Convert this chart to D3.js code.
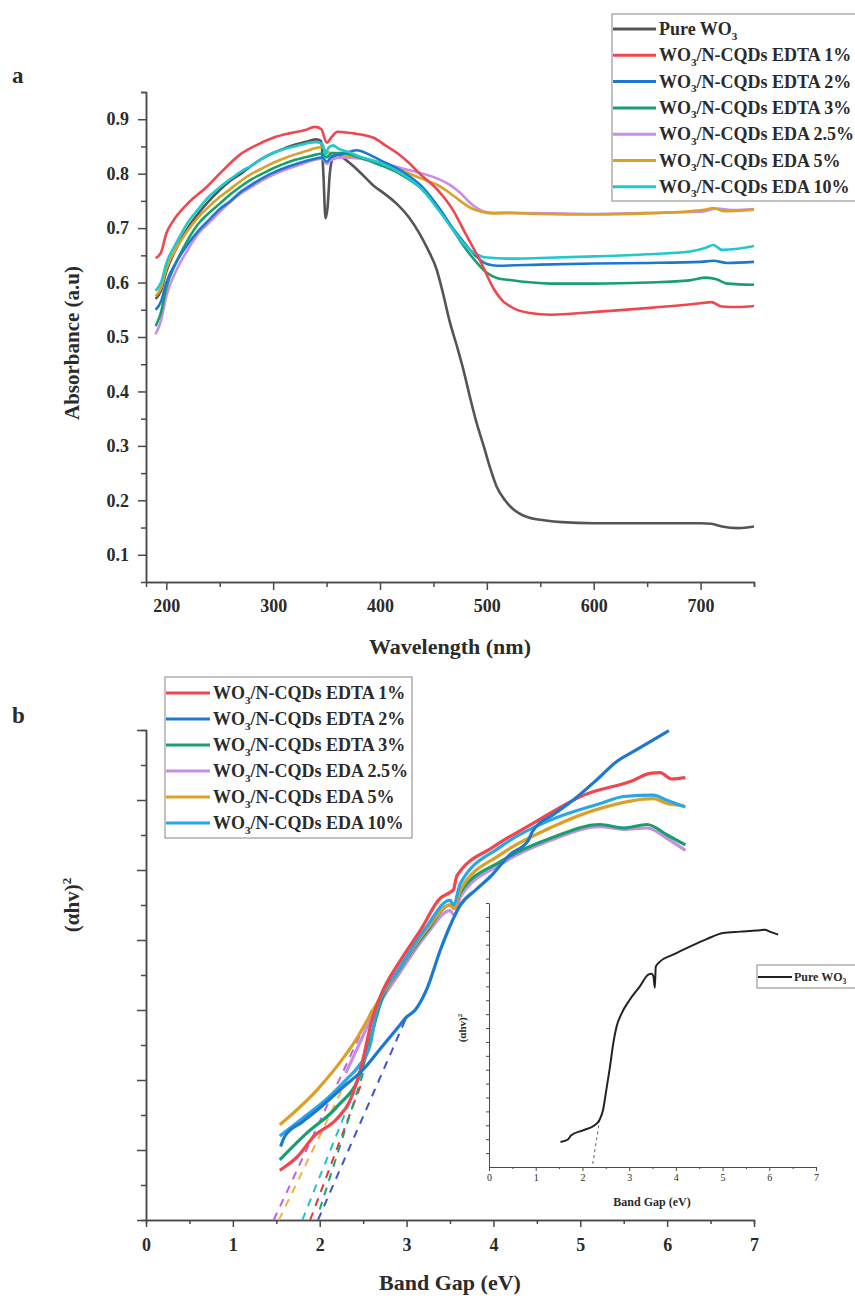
<!DOCTYPE html>
<html>
<head>
<meta charset="utf-8">
<script src="https://cdn.jsdelivr.net/npm/d3@7"></script>
<style>
  body { margin: 0; background: #fff; }
  text { font-family: "Liberation Serif", "Times New Roman", serif; font-weight: bold; fill: #2b2b2b; }
  .axis path, .axis line { stroke: #4a4a4a; stroke-width: 1.5; }
  .axis text { font-size: 18px; }
</style>
</head>
<body>
<script>
// ---- panel a: absorbance vs wavelength ----
var seriesA = ["Pure WO3", "WO3/N-CQDs EDTA 1%", "WO3/N-CQDs EDTA 2%", "WO3/N-CQDs EDTA 3%",
               "WO3/N-CQDs EDA 2.5%", "WO3/N-CQDs EDA 5%", "WO3/N-CQDs EDA 10%"];
var colorsA = ["#555555", "#f0474f", "#1d78d0", "#17a06e", "#c88ee6", "#dba126", "#22c8cc"];

var absPure = [[190,0.57],[195,0.585],[200,0.62],[210,0.665],[220,0.70],[230,0.727],[240,0.75],[250,0.77],[260,0.787],
  [270,0.80],[280,0.815],[290,0.828],[300,0.838],[310,0.846],[320,0.853],[330,0.858],[340,0.863],[345,0.86],[347,0.80],
  [349,0.718],[351,0.74],[353,0.80],[356,0.83],[360,0.835],[365,0.83],[372,0.819],[380,0.805],[394,0.778],[405,0.762],
  [416,0.744],[427,0.72],[437,0.69],[445,0.66],[453,0.624],[459,0.58],[465,0.53],[472,0.483],[478,0.44],[484,0.391],
  [490,0.345],[497,0.30],[503,0.26],[509,0.226],[517,0.20],[525,0.183],[533,0.173],[540,0.168],[555,0.163],[570,0.16],
  [600,0.158],[650,0.158],[700,0.158],[710,0.157],[720,0.152],[735,0.149],[750,0.152]];
var absEdta1 = [[190,0.645],[195,0.655],[200,0.69],[207,0.715],[220,0.745],[238,0.776],[250,0.80],[269,0.835],[285,0.853],
  [300,0.866],[315,0.874],[330,0.88],[339,0.886],[345,0.882],[350,0.857],[355,0.868],[360,0.877],[375,0.874],[394,0.866],
  [405,0.852],[416,0.838],[427,0.82],[437,0.80],[453,0.772],[468,0.734],[480,0.69],[495,0.635],[506,0.59],[515,0.566],
  [522,0.556],[540,0.544],[560,0.541],[600,0.546],[650,0.553],[700,0.562],[710,0.564],[720,0.556],[735,0.555],[750,0.557]];
var absEdta2 = [[190,0.55],[195,0.565],[200,0.60],[210,0.64],[220,0.67],[230,0.695],[240,0.715],[250,0.735],[260,0.75],
  [270,0.767],[280,0.78],[290,0.792],[300,0.802],[310,0.81],[320,0.817],[330,0.823],[340,0.828],[346,0.83],[350,0.822],
  [355,0.832],[365,0.836],[378,0.843],[390,0.835],[400,0.825],[420,0.805],[440,0.775],[456,0.735],[468,0.70],[478,0.675],
  [490,0.648],[500,0.634],[510,0.631],[550,0.633],[600,0.635],[650,0.636],[700,0.638],[712,0.64],[725,0.636],[750,0.638]];
var absEdta3 = [[190,0.52],[195,0.545],[200,0.59],[210,0.64],[220,0.678],[230,0.708],[240,0.728],[250,0.745],[260,0.762],
  [270,0.777],[280,0.79],[290,0.80],[300,0.81],[310,0.818],[320,0.825],[330,0.83],[340,0.835],[346,0.837],[350,0.83],
  [355,0.838],[365,0.838],[380,0.83],[400,0.816],[420,0.798],[440,0.77],[456,0.732],[468,0.698],[478,0.668],[490,0.638],
  [500,0.618],[510,0.608],[520,0.605],[560,0.598],[600,0.598],[650,0.60],[690,0.604],[705,0.609],[715,0.606],[725,0.598],[750,0.596]];
var absEda25 = [[190,0.505],[195,0.53],[200,0.575],[210,0.625],[220,0.66],[230,0.69],[240,0.71],[250,0.73],[260,0.748],
  [270,0.764],[280,0.776],[290,0.788],[300,0.798],[310,0.806],[320,0.813],[330,0.82],[340,0.826],[346,0.828],[350,0.818],
  [355,0.826],[365,0.83],[380,0.828],[400,0.82],[420,0.81],[440,0.80],[455,0.79],[465,0.78],[475,0.765],[485,0.745],
  [495,0.732],[505,0.728],[520,0.728],[600,0.726],[650,0.728],[700,0.73],[715,0.736],[730,0.733],[750,0.735]];
var absEda5 = [[190,0.575],[195,0.59],[200,0.625],[210,0.665],[220,0.695],[230,0.72],[240,0.74],[250,0.757],[260,0.772],
  [270,0.787],[280,0.80],[290,0.81],[300,0.82],[310,0.828],[320,0.835],[330,0.841],[340,0.847],[346,0.849],[350,0.84],
  [355,0.838],[365,0.835],[380,0.83],[400,0.82],[420,0.806],[440,0.79],[455,0.778],[465,0.765],[475,0.75],[485,0.737],
  [495,0.73],[505,0.727],[520,0.728],[550,0.726],[600,0.725],[650,0.727],[690,0.731],[705,0.734],[712,0.737],[722,0.731],[750,0.734]];
var absEda10 = [[190,0.585],[195,0.60],[200,0.635],[210,0.675],[220,0.71],[230,0.735],[240,0.758],[250,0.775],[260,0.79],
  [270,0.804],[280,0.815],[290,0.828],[300,0.838],[310,0.845],[320,0.85],[330,0.855],[340,0.858],[346,0.855],[349,0.835],
  [352,0.848],[356,0.852],[362,0.845],[370,0.84],[380,0.832],[390,0.826],[400,0.82],[420,0.80],[440,0.77],[456,0.73],
  [468,0.698],[478,0.672],[490,0.652],[500,0.646],[520,0.644],[550,0.645],[600,0.648],[650,0.652],[690,0.657],[705,0.664],
  [712,0.669],[720,0.66],[735,0.662],[750,0.667]];
var dataA = [absPure, absEdta1, absEdta2, absEdta3, absEda25, absEda5, absEda10];

var ticksAx = [200, 300, 400, 500, 600, 700];
var ticksAy = [0.1, 0.2, 0.3, 0.4, 0.5, 0.6, 0.7, 0.8, 0.9];

// ---- panel b: Tauc plot ----
var seriesB = ["WO3/N-CQDs EDTA 1%", "WO3/N-CQDs EDTA 2%", "WO3/N-CQDs EDTA 3%",
               "WO3/N-CQDs EDA 2.5%", "WO3/N-CQDs EDA 5%", "WO3/N-CQDs EDA 10%"];
var colorsB = ["#f0474f", "#1d78d0", "#17a06e", "#c88ee6", "#dba126", "#2aa6e6"];

var taucEdta1 = [[1.54,0.71],[1.6,0.76],[1.74,0.9],[1.93,1.19],[2.2,1.45],[2.35,1.71],[2.48,2.2],[2.6,2.85],[2.7,3.2],
  [2.93,3.71],[3.16,4.14],[3.39,4.6],[3.5,4.68],[3.54,4.72],[3.58,4.92],[4.0,5.33],[4.46,5.67],[5.04,6.07],[5.61,6.28],
  [5.8,6.38],[5.92,6.39],[6.05,6.3],[6.21,6.32]];
var taucEdta2 = [[1.55,1.05],[1.6,1.2],[1.8,1.4],[2.0,1.6],[2.27,1.9],[2.5,2.15],[2.7,2.45],[2.9,2.75],[3.0,2.9],[3.1,3.0],
  [3.23,3.29],[3.39,3.86],[3.5,4.2],[3.62,4.5],[3.8,4.72],[3.96,4.9],[4.19,5.22],[4.4,5.42],[4.45,5.55],[4.7,5.8],
  [4.92,6.0],[5.2,6.3],[5.42,6.55],[5.65,6.72],[5.84,6.86],[6.02,6.99]];
var taucEdta3 = [[1.54,0.86],[1.85,1.24],[2.2,1.62],[2.47,2.1],[2.58,2.57],[2.7,3.1],[2.93,3.6],[3.23,4.12],[3.5,4.5],
  [3.55,4.45],[3.62,4.68],[4.08,5.12],[4.65,5.45],[5.23,5.65],[5.5,5.6],[5.77,5.65],[6.0,5.5],[6.21,5.36]];
var taucEda25 = [[2.3,2.1],[2.45,2.5],[2.6,2.9],[2.93,3.55],[3.23,4.08],[3.5,4.42],[3.55,4.35],[3.62,4.62],[4.08,5.08],
  [4.65,5.42],[5.23,5.62],[5.5,5.58],[5.77,5.6],[6.0,5.45],[6.21,5.28]];
var taucEda5 = [[1.54,1.36],[1.97,1.86],[2.31,2.38],[2.43,2.6],[2.5,2.75],[2.66,3.1],[2.93,3.62],[3.23,4.15],[3.5,4.5],
  [3.55,4.45],[3.62,4.72],[4.08,5.22],[4.65,5.6],[5.23,5.88],[5.84,6.02],[6.0,5.95],[6.19,5.92]];
var taucEda10 = [[1.54,1.2],[1.8,1.45],[2.1,1.75],[2.3,2.0],[2.45,2.2],[2.58,2.5],[2.66,3.0],[2.93,3.62],[3.23,4.19],
  [3.5,4.57],[3.54,4.5],[3.62,4.81],[4.08,5.33],[4.65,5.71],[5.23,5.95],[5.5,6.05],[5.84,6.07],[5.99,6.0],[6.21,5.9]];
var dataB = [taucEdta1, taucEdta2, taucEdta3, taucEda25, taucEda5, taucEda10];

// tangent lines used for the band gap, same order as seriesB
var tangentsB = [[[1.89,0],[2.48,1.95]], [[1.98,0],[3.0,2.9]], [[2.0,0.15],[2.5,2.1]],
                 [[1.47,0],[2.6,3.0]], [[1.53,0],[2.35,2.1]], [[1.8,0],[2.35,1.7]]];
var tangentColors = ["#e8323c", "#4056d0", "#1aa574", "#b864e0", "#f0b445", "#22c0d4"];

var ticksB = [0, 1, 2, 3, 4, 5, 6, 7];

// ---- inset: pure WO3 ----
var taucPure = [[1.53,0.90],[1.69,0.99],[1.76,1.14],[2.01,1.32],[2.26,1.50],[2.37,1.71],[2.44,2.04],[2.51,2.76],
  [2.59,3.61],[2.66,4.45],[2.73,5.05],[2.84,5.53],[3.01,6.01],[3.23,6.50],[3.41,6.92],[3.48,6.95],[3.52,6.86],
  [3.55,6.45],[3.57,7.21],[3.66,7.39],[3.94,7.64],[4.3,7.93],[4.66,8.20],[5.01,8.42],[5.37,8.47],[5.73,8.51],
  [5.91,8.54],[6.01,8.47],[6.19,8.36]];
var tangentPure = [[2.37,1.71],[2.21,0]];
var ticksInset = [0, 1, 2, 3, 4, 5, 6, 7];

var svg = d3.select("body").append("svg").attr("width", 855).attr("height", 1300);

// labels containing WO3 get a subscript 3
function wo3Label(sel, label, size) {
    var idx = label.indexOf("WO3");
    if (idx > 0) sel.append("tspan").text(label.slice(0, idx));
    sel.append("tspan").text("WO");
    sel.append("tspan").attr("font-size", size * 0.62).attr("dy", size * 0.25).text("3");
    sel.append("tspan").attr("dy", -size * 0.25).text(label.slice(idx + 3));
}

function minorAxis(axisFn, scale, values, size) {
    return axisFn(scale).tickValues(values).tickSize(size).tickFormat("");
}

// ================= panel a =================
var xA = d3.scaleLinear().domain([181, 750]).range([146, 754]);
var yA = d3.scaleLinear().domain([0.05, 0.95]).range([582, 92]);

svg.append("g").attr("class", "axis").attr("transform", "translate(0,582)")
    .call(minorAxis(d3.axisBottom, xA, [250, 350, 450, 550, 650, 750], 5));
svg.append("g").attr("class", "axis").attr("transform", "translate(0,582)")
    .call(d3.axisBottom(xA).tickValues(ticksAx).tickSize(8).tickPadding(9).tickSizeOuter(0));
svg.append("g").attr("class", "axis").attr("transform", "translate(146,0)")
    .call(minorAxis(d3.axisLeft, yA, [0.15, 0.25, 0.35, 0.45, 0.55, 0.65, 0.75, 0.85, 0.95], 5));
svg.append("g").attr("class", "axis").attr("transform", "translate(146,0)")
    .call(d3.axisLeft(yA).tickValues(ticksAy).tickSize(8).tickPadding(9).tickSizeOuter(0).tickFormat(d3.format(".1f")));

var lineA = d3.line().x(function(d) { return xA(d[0]); }).y(function(d) { return yA(d[1]); })
    .curve(d3.curveMonotoneX);

[0, 4, 5, 3, 2, 6, 1].forEach(function(i) {
    svg.append("path").datum(dataA[i]).attr("d", lineA)
        .attr("fill", "none").attr("stroke", colorsA[i]).attr("stroke-width", 2.6)
        .attr("stroke-linejoin", "round");
});

svg.append("text").attr("x", 450).attr("y", 654).attr("text-anchor", "middle")
    .style("font-size", "22px").text("Wavelength (nm)");
svg.append("text").attr("transform", "translate(79,343) rotate(-90)").attr("text-anchor", "middle")
    .style("font-size", "21px").text("Absorbance (a.u)");
svg.append("text").attr("x", 12).attr("y", 83).style("font-size", "23px").text("a");

// legend a
var legA = svg.append("g");
legA.append("rect").attr("x", 612).attr("y", 14).attr("width", 260).attr("height", 187)
    .attr("fill", "#fff").attr("stroke", "#999").attr("stroke-width", 1.2);
seriesA.forEach(function(s, i) {
    var y = 29 + i * 26.3;
    legA.append("line").attr("x1", 613).attr("x2", 656).attr("y1", y).attr("y2", y)
        .attr("stroke", colorsA[i]).attr("stroke-width", 3);
    var t = legA.append("text").attr("x", 659).attr("y", y + 6).style("font-size", "18px");
    wo3Label(t, s, 18);
});

// ================= panel b =================
var xB = d3.scaleLinear().domain([0, 7]).range([146, 754]);
var yB = d3.scaleLinear().domain([0, 7]).range([1220, 730]);

svg.append("g").attr("class", "axis").attr("transform", "translate(0,1220)")
    .call(minorAxis(d3.axisBottom, xB, [0.5, 1.5, 2.5, 3.5, 4.5, 5.5, 6.5], 4));
svg.append("g").attr("class", "axis").attr("transform", "translate(0,1220)")
    .call(d3.axisBottom(xB).tickValues(ticksB).tickSize(7).tickPadding(11).tickSizeOuter(0).tickFormat(d3.format("d")));
svg.append("g").attr("class", "axis").attr("transform", "translate(146,0)")
    .call(minorAxis(d3.axisLeft, yB, [0.5, 1.5, 2.5, 3.5, 4.5, 5.5, 6.5], 5));
svg.append("g").attr("class", "axis").attr("transform", "translate(146,0)")
    .call(d3.axisLeft(yB).tickValues([0, 1, 2, 3, 4, 5, 6, 7]).tickSize(9).tickSizeOuter(0).tickFormat(""));

var lineB = d3.line().x(function(d) { return xB(d[0]); }).y(function(d) { return yB(d[1]); })
    .curve(d3.curveMonotoneX);

tangentsB.forEach(function(t, i) {
    svg.append("path").datum(t).attr("d", d3.line().x(function(d) { return xB(d[0]); }).y(function(d) { return yB(d[1]); }))
        .attr("fill", "none").attr("stroke", tangentColors[i]).attr("stroke-width", 2)
        .attr("stroke-dasharray", "8,7");
});

[3, 2, 4, 5, 0, 1].forEach(function(i) {
    svg.append("path").datum(dataB[i]).attr("d", lineB)
        .attr("fill", "none").attr("stroke", colorsB[i]).attr("stroke-width", 3.2)
        .attr("stroke-linejoin", "round");
});

svg.append("text").attr("x", 450).attr("y", 1290).attr("text-anchor", "middle")
    .style("font-size", "22px").text("Band Gap (eV)");
var yLabB = svg.append("text").attr("transform", "translate(79,905) rotate(-90)").attr("text-anchor", "middle")
    .style("font-size", "21px");
yLabB.append("tspan").text("(αhv)");
yLabB.append("tspan").attr("dy", -8).style("font-size", "13px").text("2");
svg.append("text").attr("x", 12).attr("y", 723).style("font-size", "23px").text("b");

// legend b
var legB = svg.append("g");
legB.append("rect").attr("x", 165).attr("y", 677).attr("width", 247).attr("height", 161)
    .attr("fill", "#fff").attr("stroke", "#999").attr("stroke-width", 1.2);
seriesB.forEach(function(s, i) {
    var y = 693 + i * 26;
    legB.append("line").attr("x1", 166).attr("x2", 210).attr("y1", y).attr("y2", y)
        .attr("stroke", colorsB[i]).attr("stroke-width", 3);
    var t = legB.append("text").attr("x", 213).attr("y", y + 6).style("font-size", "18px");
    wo3Label(t, s, 18);
});

// ================= inset =================
var xI = d3.scaleLinear().domain([0, 7]).range([489, 816]);
var yI = d3.scaleLinear().domain([0, 9.5]).range([1167, 903]);

var inset = svg.append("g").attr("class", "inset");
inset.append("g").attr("class", "axis").attr("transform", "translate(0,1167)")
    .call(minorAxis(d3.axisBottom, xI, [0.5, 1.5, 2.5, 3.5, 4.5, 5.5, 6.5], 2));
inset.append("g").attr("class", "axis").attr("transform", "translate(0,1167)")
    .call(d3.axisBottom(xI).tickValues(ticksInset).tickSize(4).tickPadding(3).tickSizeOuter(0).tickFormat(d3.format("d")))
    .selectAll("text").style("font-size", "10px").style("font-weight", "normal");
inset.append("g").attr("class", "axis").attr("transform", "translate(489,0)")
    .call(d3.axisLeft(yI).tickValues(d3.range(0.5, 9.6, 0.5)).tickSize(3).tickSizeOuter(0).tickFormat(""));
inset.selectAll(".axis path, .axis line").style("stroke-width", 1);

inset.append("path").datum(tangentPure)
    .attr("d", d3.line().x(function(d) { return xI(d[0]); }).y(function(d) { return yI(d[1]); }))
    .attr("fill", "none").attr("stroke", "#666").attr("stroke-width", 1).attr("stroke-dasharray", "3,3");
inset.append("path").datum(taucPure)
    .attr("d", d3.line().x(function(d) { return xI(d[0]); }).y(function(d) { return yI(d[1]); }).curve(d3.curveMonotoneX))
    .attr("fill", "none").attr("stroke", "#222").attr("stroke-width", 2);

inset.append("text").attr("x", 652).attr("y", 1206).attr("text-anchor", "middle")
    .style("font-size", "12px").text("Band Gap (eV)");
var yLabI = inset.append("text").attr("transform", "translate(466,1028) rotate(-90)").attr("text-anchor", "middle")
    .style("font-size", "11px");
yLabI.append("tspan").text("(αhv)");
yLabI.append("tspan").attr("dy", -4).style("font-size", "7px").text("2");

inset.append("rect").attr("x", 757).attr("y", 965).attr("width", 110).attr("height", 23)
    .attr("fill", "#fff").attr("stroke", "#888").attr("stroke-width", 1);
inset.append("line").attr("x1", 758).attr("x2", 792).attr("y1", 977).attr("y2", 977)
    .attr("stroke", "#222").attr("stroke-width", 2);
var tI = inset.append("text").attr("x", 794).attr("y", 981).style("font-size", "12px");
wo3Label(tI, "Pure WO3", 12);
</script>
</body>
</html>
